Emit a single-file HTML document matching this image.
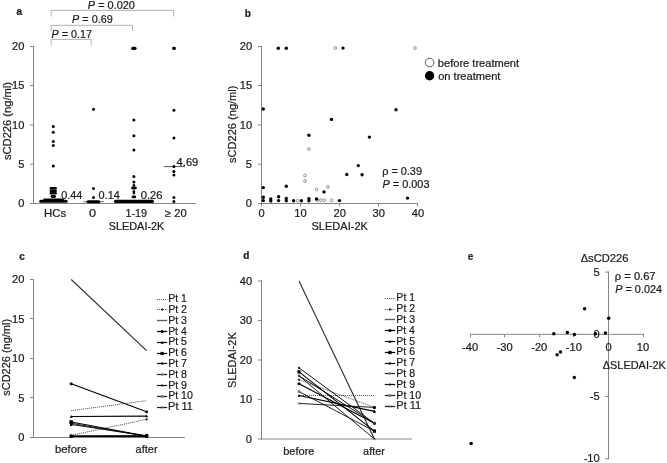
<!DOCTYPE html>
<html><head><meta charset="utf-8"><title>Figure</title>
<style>
html,body{margin:0;padding:0;background:#fff;}
body{width:667px;height:463px;overflow:hidden;font-family:"Liberation Sans",sans-serif;}
svg{display:block;will-change:transform;}
svg text{font-family:"Liberation Sans",sans-serif;fill:#1c1c1c;stroke:#1c1c1c;stroke-width:0.22px;}
</style></head><body>
<svg width="667" height="463" viewBox="0 0 667 463">
<rect width="667" height="463" fill="#fff"/>
<g id="pa">
<text x="16.60" y="14.60" font-size="10" font-weight="bold">a</text>
<line x1="33.50" y1="46.00" x2="33.50" y2="204.00" stroke="#858585" stroke-width="1" />
<line x1="30.00" y1="203.50" x2="195.70" y2="203.50" stroke="#858585" stroke-width="1" />
<text x="18.17" y="207.40" font-size="10.7" textLength="6.19" lengthAdjust="spacingAndGlyphs">0</text>
<line x1="30.00" y1="164.25" x2="34.00" y2="164.25" stroke="#858585" stroke-width="1" />
<text x="18.17" y="168.15" font-size="10.7" textLength="6.19" lengthAdjust="spacingAndGlyphs">5</text>
<line x1="30.00" y1="125.00" x2="34.00" y2="125.00" stroke="#858585" stroke-width="1" />
<text x="11.99" y="128.90" font-size="10.7" textLength="12.38" lengthAdjust="spacingAndGlyphs">10</text>
<line x1="30.00" y1="85.50" x2="34.00" y2="85.50" stroke="#858585" stroke-width="1" />
<text x="11.99" y="89.40" font-size="10.7" textLength="12.38" lengthAdjust="spacingAndGlyphs">15</text>
<line x1="30.00" y1="46.50" x2="34.00" y2="46.50" stroke="#858585" stroke-width="1" />
<text x="11.99" y="50.40" font-size="10.7" textLength="12.38" lengthAdjust="spacingAndGlyphs">20</text>
<path d="M51.2 16.6 V10.4 H173.7 V16.6" fill="none" stroke="#b2b2b2" stroke-width="1"/>
<path d="M51.2 31.2 V25.3 H132.5 V31.2" fill="none" stroke="#b2b2b2" stroke-width="1"/>
<path d="M51.2 45.3 V39.4 H91.2 V45.3" fill="none" stroke="#b2b2b2" stroke-width="1"/>
<text x="87.87" y="8.70" font-size="10.7" textLength="47.06" lengthAdjust="spacingAndGlyphs"><tspan font-style="italic">P</tspan> = 0.020</text>
<text x="72.08" y="23.00" font-size="10.7" textLength="40.65" lengthAdjust="spacingAndGlyphs"><tspan font-style="italic">P</tspan> = 0.69</text>
<text x="51.58" y="37.90" font-size="10.7" textLength="40.50" lengthAdjust="spacingAndGlyphs"><tspan font-style="italic">P</tspan> = 0.17</text>
<text x="0" y="0" font-size="10.7" textLength="78.03" lengthAdjust="spacingAndGlyphs" transform="translate(10.70 160.03) rotate(-90)">sCD226 (ng/ml)</text>
<circle cx="53.30" cy="126.40" r="1.5" fill="#000"/>
<circle cx="53.30" cy="132.20" r="1.5" fill="#000"/>
<circle cx="53.30" cy="141.40" r="1.5" fill="#000"/>
<circle cx="53.30" cy="145.40" r="1.5" fill="#000"/>
<circle cx="53.30" cy="166.00" r="1.5" fill="#000"/>
<line x1="50.90" y1="188.20" x2="55.60" y2="188.20" stroke="#000" stroke-width="2.6" stroke-linecap="round"/>
<line x1="50.80" y1="190.70" x2="55.70" y2="190.70" stroke="#000" stroke-width="2.4" stroke-linecap="round"/>
<line x1="50.90" y1="193.20" x2="55.60" y2="193.20" stroke="#000" stroke-width="2.6" stroke-linecap="round"/>
<line x1="52.00" y1="196.50" x2="54.60" y2="196.50" stroke="#000" stroke-width="2.8" stroke-linecap="round"/>
<line x1="44.60" y1="199.70" x2="62.70" y2="199.70" stroke="#000" stroke-width="2.6" stroke-linecap="round"/>
<line x1="40.75" y1="201.30" x2="66.15" y2="201.30" stroke="#000" stroke-width="3.1" stroke-linecap="round"/>
<line x1="83.20" y1="201.70" x2="104.00" y2="201.70" stroke="#777" stroke-width="1" />
<circle cx="93.50" cy="109.30" r="1.5" fill="#000"/>
<circle cx="93.50" cy="188.50" r="1.5" fill="#000"/>
<circle cx="93.50" cy="197.60" r="1.5" fill="#000"/>
<line x1="88.05" y1="201.70" x2="98.75" y2="201.70" stroke="#000" stroke-width="3.1" stroke-linecap="round"/>
<line x1="132.70" y1="48.30" x2="135.00" y2="48.30" stroke="#000" stroke-width="3.2" stroke-linecap="round"/>
<circle cx="133.90" cy="120.00" r="1.5" fill="#000"/>
<circle cx="133.90" cy="135.80" r="1.5" fill="#000"/>
<circle cx="133.90" cy="150.00" r="1.5" fill="#000"/>
<circle cx="133.90" cy="176.40" r="1.5" fill="#000"/>
<circle cx="133.90" cy="182.10" r="1.5" fill="#000"/>
<circle cx="133.90" cy="185.30" r="1.25" fill="#000"/>
<circle cx="133.90" cy="191.50" r="1.3" fill="#000"/>
<circle cx="133.90" cy="193.10" r="1.3" fill="#000"/>
<line x1="132.50" y1="188.00" x2="135.40" y2="188.00" stroke="#000" stroke-width="2.8" stroke-linecap="round"/>
<line x1="133.00" y1="196.90" x2="134.70" y2="196.90" stroke="#000" stroke-width="2.8" stroke-linecap="round"/>
<line x1="115.45" y1="201.40" x2="152.45" y2="201.40" stroke="#000" stroke-width="3.1" stroke-linecap="round"/>
<line x1="173.60" y1="48.30" x2="174.40" y2="48.30" stroke="#000" stroke-width="3.2" stroke-linecap="round"/>
<line x1="164.00" y1="166.60" x2="185.00" y2="166.60" stroke="#555" stroke-width="1" />
<circle cx="173.90" cy="110.30" r="1.5" fill="#000"/>
<circle cx="173.90" cy="138.00" r="1.5" fill="#000"/>
<circle cx="173.90" cy="166.50" r="1.5" fill="#000"/>
<circle cx="173.90" cy="171.50" r="1.5" fill="#000"/>
<circle cx="173.90" cy="175.10" r="1.5" fill="#000"/>
<circle cx="173.90" cy="197.60" r="1.5" fill="#000"/>
<circle cx="173.90" cy="201.40" r="1.5" fill="#000"/>
<text x="61.17" y="199.00" font-size="10.7" textLength="21.07" lengthAdjust="spacingAndGlyphs">0.44</text>
<text x="98.56" y="199.00" font-size="10.7" textLength="21.28" lengthAdjust="spacingAndGlyphs">0.14</text>
<text x="140.65" y="198.60" font-size="10.7" textLength="21.87" lengthAdjust="spacingAndGlyphs">0.26</text>
<text x="176.62" y="165.80" font-size="10.7" textLength="21.70" lengthAdjust="spacingAndGlyphs">4.69</text>
<text x="43.99" y="216.50" font-size="10.7" textLength="22.10" lengthAdjust="spacingAndGlyphs">HCs</text>
<text x="89.09" y="216.50" font-size="10.7" textLength="7.03" lengthAdjust="spacingAndGlyphs">0</text>
<text x="125.49" y="216.50" font-size="10.7" textLength="21.61" lengthAdjust="spacingAndGlyphs">1-19</text>
<text x="165.07" y="216.50" font-size="10.7" textLength="21.57" lengthAdjust="spacingAndGlyphs">≥ 20</text>
<text x="108.71" y="229.70" font-size="10.7" textLength="55.64" lengthAdjust="spacingAndGlyphs">SLEDAI-2K</text>
</g>
<g id="pb">
<text x="244.75" y="16.70" font-size="10" font-weight="bold">b</text>
<line x1="261.50" y1="46.00" x2="261.50" y2="204.00" stroke="#858585" stroke-width="1" />
<line x1="258.00" y1="203.50" x2="418.00" y2="203.50" stroke="#858585" stroke-width="1" />
<text x="245.87" y="207.40" font-size="10.7" textLength="6.19" lengthAdjust="spacingAndGlyphs">0</text>
<line x1="258.00" y1="164.25" x2="262.00" y2="164.25" stroke="#858585" stroke-width="1" />
<text x="245.87" y="168.15" font-size="10.7" textLength="6.19" lengthAdjust="spacingAndGlyphs">5</text>
<line x1="258.00" y1="125.00" x2="262.00" y2="125.00" stroke="#858585" stroke-width="1" />
<text x="239.69" y="128.90" font-size="10.7" textLength="12.38" lengthAdjust="spacingAndGlyphs">10</text>
<line x1="258.00" y1="85.50" x2="262.00" y2="85.50" stroke="#858585" stroke-width="1" />
<text x="239.69" y="89.40" font-size="10.7" textLength="12.38" lengthAdjust="spacingAndGlyphs">15</text>
<line x1="258.00" y1="46.50" x2="262.00" y2="46.50" stroke="#858585" stroke-width="1" />
<text x="239.69" y="50.40" font-size="10.7" textLength="12.38" lengthAdjust="spacingAndGlyphs">20</text>
<line x1="261.50" y1="203.50" x2="261.50" y2="206.50" stroke="#858585" stroke-width="1" />
<text x="258.41" y="216.50" font-size="10.7" textLength="6.19" lengthAdjust="spacingAndGlyphs">0</text>
<line x1="300.50" y1="203.50" x2="300.50" y2="206.50" stroke="#858585" stroke-width="1" />
<text x="294.23" y="216.50" font-size="10.7" textLength="12.38" lengthAdjust="spacingAndGlyphs">10</text>
<line x1="339.50" y1="203.50" x2="339.50" y2="206.50" stroke="#858585" stroke-width="1" />
<text x="333.47" y="216.50" font-size="10.7" textLength="12.38" lengthAdjust="spacingAndGlyphs">20</text>
<line x1="378.50" y1="203.50" x2="378.50" y2="206.50" stroke="#858585" stroke-width="1" />
<text x="372.62" y="216.50" font-size="10.7" textLength="12.38" lengthAdjust="spacingAndGlyphs">30</text>
<line x1="417.50" y1="203.50" x2="417.50" y2="206.50" stroke="#858585" stroke-width="1" />
<text x="411.81" y="216.50" font-size="10.7" textLength="12.38" lengthAdjust="spacingAndGlyphs">40</text>
<text x="311.50" y="229.70" font-size="10.7" textLength="56.45" lengthAdjust="spacingAndGlyphs">SLEDAI-2K</text>
<text x="0" y="0" font-size="10.7" textLength="77.52" lengthAdjust="spacingAndGlyphs" transform="translate(236.30 163.03) rotate(-90)">sCD226 (ng/ml)</text>
<circle cx="335.30" cy="48.10" r="1.4" fill="#fff" stroke="#707070" stroke-width="0.75"/>
<circle cx="415.00" cy="48.10" r="1.4" fill="#fff" stroke="#707070" stroke-width="0.75"/>
<circle cx="308.90" cy="149.10" r="1.4" fill="#fff" stroke="#707070" stroke-width="0.75"/>
<circle cx="305.00" cy="175.60" r="1.4" fill="#fff" stroke="#707070" stroke-width="0.75"/>
<circle cx="305.00" cy="181.10" r="1.4" fill="#fff" stroke="#707070" stroke-width="0.75"/>
<circle cx="316.50" cy="189.40" r="1.4" fill="#fff" stroke="#707070" stroke-width="0.75"/>
<circle cx="327.90" cy="186.90" r="1.4" fill="#fff" stroke="#707070" stroke-width="0.75"/>
<circle cx="297.70" cy="200.80" r="1.4" fill="#fff" stroke="#707070" stroke-width="0.75"/>
<circle cx="317.60" cy="200.10" r="1.4" fill="#fff" stroke="#707070" stroke-width="0.75"/>
<circle cx="320.90" cy="200.20" r="1.4" fill="#fff" stroke="#707070" stroke-width="0.75"/>
<circle cx="324.20" cy="200.20" r="1.4" fill="#fff" stroke="#707070" stroke-width="0.75"/>
<circle cx="331.70" cy="200.40" r="1.4" fill="#fff" stroke="#707070" stroke-width="0.75"/>
<circle cx="278.30" cy="48.30" r="1.7" fill="#000"/>
<circle cx="286.30" cy="48.30" r="1.7" fill="#000"/>
<circle cx="343.00" cy="48.10" r="1.7" fill="#000"/>
<circle cx="263.30" cy="109.00" r="1.7" fill="#000"/>
<circle cx="331.50" cy="119.40" r="1.7" fill="#000"/>
<circle cx="308.90" cy="135.20" r="1.7" fill="#000"/>
<circle cx="396.00" cy="109.80" r="1.7" fill="#000"/>
<circle cx="369.40" cy="137.10" r="1.7" fill="#000"/>
<circle cx="358.30" cy="165.60" r="1.7" fill="#000"/>
<circle cx="346.80" cy="174.50" r="1.7" fill="#000"/>
<circle cx="362.10" cy="174.80" r="1.7" fill="#000"/>
<circle cx="407.50" cy="198.10" r="1.7" fill="#000"/>
<circle cx="263.30" cy="187.60" r="1.7" fill="#000"/>
<circle cx="263.30" cy="197.30" r="1.7" fill="#000"/>
<circle cx="263.30" cy="200.60" r="1.7" fill="#000"/>
<circle cx="270.80" cy="199.00" r="1.7" fill="#000"/>
<circle cx="270.80" cy="201.00" r="1.7" fill="#000"/>
<circle cx="278.60" cy="196.80" r="1.7" fill="#000"/>
<circle cx="278.60" cy="200.60" r="1.7" fill="#000"/>
<circle cx="286.30" cy="186.30" r="1.7" fill="#000"/>
<circle cx="286.30" cy="198.50" r="1.7" fill="#000"/>
<circle cx="286.30" cy="200.70" r="1.7" fill="#000"/>
<circle cx="293.60" cy="200.80" r="1.7" fill="#000"/>
<circle cx="301.40" cy="200.80" r="1.7" fill="#000"/>
<circle cx="308.90" cy="198.60" r="1.7" fill="#000"/>
<circle cx="308.90" cy="200.80" r="1.7" fill="#000"/>
<circle cx="316.50" cy="199.00" r="1.7" fill="#000"/>
<circle cx="324.00" cy="191.90" r="1.7" fill="#000"/>
<circle cx="339.50" cy="200.60" r="1.7" fill="#000"/>
<circle cx="429.60" cy="62.50" r="4.3" fill="#fff" stroke="#333" stroke-width="0.8"/>
<circle cx="429.60" cy="75.80" r="4.7" fill="#000"/>
<text x="437.88" y="66.60" font-size="10.7" textLength="81.20" lengthAdjust="spacingAndGlyphs">before treatment</text>
<text x="438.16" y="80.00" font-size="10.7" textLength="62.25" lengthAdjust="spacingAndGlyphs">on treatment</text>
<text x="382.19" y="174.80" font-size="10.7" textLength="39.80" lengthAdjust="spacingAndGlyphs">ρ = 0.39</text>
<text x="382.57" y="188.10" font-size="10.7" textLength="46.91" lengthAdjust="spacingAndGlyphs"><tspan font-style="italic">P</tspan> = 0.003</text>
</g>
<g id="pc">
<text x="19.30" y="259.80" font-size="10" font-weight="bold">c</text>
<line x1="33.50" y1="279.00" x2="33.50" y2="438.00" stroke="#858585" stroke-width="1" />
<line x1="30.00" y1="437.50" x2="184.90" y2="437.50" stroke="#858585" stroke-width="1" />
<text x="18.17" y="441.40" font-size="10.7" textLength="6.19" lengthAdjust="spacingAndGlyphs">0</text>
<line x1="30.00" y1="397.50" x2="34.00" y2="397.50" stroke="#858585" stroke-width="1" />
<text x="18.17" y="401.90" font-size="10.7" textLength="6.19" lengthAdjust="spacingAndGlyphs">5</text>
<line x1="30.00" y1="358.50" x2="34.00" y2="358.50" stroke="#858585" stroke-width="1" />
<text x="11.99" y="362.40" font-size="10.7" textLength="12.38" lengthAdjust="spacingAndGlyphs">10</text>
<line x1="30.00" y1="318.50" x2="34.00" y2="318.50" stroke="#858585" stroke-width="1" />
<text x="11.99" y="322.90" font-size="10.7" textLength="12.38" lengthAdjust="spacingAndGlyphs">15</text>
<line x1="30.00" y1="279.50" x2="34.00" y2="279.50" stroke="#858585" stroke-width="1" />
<text x="11.99" y="283.40" font-size="10.7" textLength="12.38" lengthAdjust="spacingAndGlyphs">20</text>
<text x="54.97" y="453.40" font-size="10.7" textLength="32.05" lengthAdjust="spacingAndGlyphs">before</text>
<text x="135.61" y="453.40" font-size="10.7" textLength="21.97" lengthAdjust="spacingAndGlyphs">after</text>
<text x="0" y="0" font-size="10.7" textLength="76.81" lengthAdjust="spacingAndGlyphs" transform="translate(10.30 395.73) rotate(-90)">sCD226 (ng/ml)</text>
<line x1="71.20" y1="423.28" x2="146.60" y2="436.31" stroke="#222" stroke-width="1.0" />
<circle cx="71.20" cy="423.28" r="1.3" fill="#777"/>
<circle cx="146.60" cy="436.31" r="1.3" fill="#777"/>
<line x1="71.20" y1="436.31" x2="146.60" y2="435.92" stroke="#222" stroke-width="1.0" />
<rect x="69.90" y="435.01" width="2.6" height="2.6" fill="#777"/>
<rect x="145.30" y="434.62" width="2.6" height="2.6" fill="#777"/>
<line x1="71.20" y1="436.31" x2="146.60" y2="436.71" stroke="#222" stroke-width="1.0" />
<path d="M70.00 435.12 L72.40 437.51 M70.00 437.51 L72.40 435.12" stroke="#666" stroke-width="0.8"/>
<path d="M145.40 435.51 L147.80 437.91 M145.40 437.91 L147.80 435.51" stroke="#666" stroke-width="0.8"/>
<line x1="71.20" y1="410.64" x2="146.60" y2="400.69" stroke="#444" stroke-width="0.9" stroke-dasharray="1.1 0.9"/>
<line x1="71.20" y1="435.37" x2="146.60" y2="419.33" stroke="#444" stroke-width="0.9" stroke-dasharray="1.1 0.9"/>
<path d="M69.80 435.37 L71.20 433.97 L72.60 435.37 L71.20 436.77 Z" fill="#222"/>
<path d="M145.20 419.33 L146.60 417.93 L148.00 419.33 L146.60 420.73 Z" fill="#222"/>
<line x1="71.20" y1="279.50" x2="146.60" y2="350.60" stroke="#303030" stroke-width="1.15" />
<line x1="71.20" y1="383.78" x2="146.60" y2="411.67" stroke="#000" stroke-width="1.1" />
<circle cx="71.20" cy="383.78" r="1.5" fill="#000"/>
<circle cx="146.60" cy="411.67" r="1.5" fill="#000"/>
<line x1="71.20" y1="416.49" x2="146.60" y2="416.17" stroke="#000" stroke-width="1.1" />
<path d="M69.70 417.69 L72.70 417.69 L71.20 414.89 Z" fill="#000"/>
<path d="M145.10 417.37 L148.10 417.37 L146.60 414.57 Z" fill="#000"/>
<line x1="71.20" y1="424.46" x2="146.60" y2="435.92" stroke="#111" stroke-width="1.0" />
<path d="M69.80 424.46 L71.20 423.06 L72.60 424.46 L71.20 425.86 Z" fill="#000"/>
<path d="M145.20 435.92 L146.60 434.52 L148.00 435.92 L146.60 437.32 Z" fill="#000"/>
<line x1="71.20" y1="436.31" x2="146.60" y2="436.31" stroke="#111" stroke-width="1.0" />
<path d="M71.20 435.01 V437.62" stroke="#222" stroke-width="0.9"/>
<path d="M146.60 435.01 V437.62" stroke="#222" stroke-width="0.9"/>
<line x1="71.20" y1="422.02" x2="146.60" y2="435.92" stroke="#000" stroke-width="1.1" />
<rect x="69.60" y="420.42" width="3.2" height="3.2" fill="#000"/>
<rect x="145.00" y="434.32" width="3.2" height="3.2" fill="#000"/>
<line x1="71.20" y1="436.31" x2="146.60" y2="436.08" stroke="#000" stroke-width="1.5" />
<rect x="69.60" y="434.71" width="3.2" height="3.2" fill="#000"/>
<rect x="145.00" y="434.32" width="3.2" height="3.2" fill="#000"/>
<rect x="69.60" y="420.42" width="3.2" height="3.2" fill="#000"/>
<path d="M69.70 425.90 L72.70 425.90 L71.20 423.10 Z" fill="#000"/>
<line x1="157.00" y1="299.50" x2="167.20" y2="299.50" stroke="#444" stroke-width="0.9" stroke-dasharray="1.1 0.9"/>
<text x="168.16" y="302.20" font-size="10.7" textLength="18.76" lengthAdjust="spacingAndGlyphs">Pt 1</text>
<line x1="157.00" y1="309.50" x2="167.20" y2="309.50" stroke="#444" stroke-width="0.9" stroke-dasharray="1.1 0.9"/>
<path d="M160.70 309.50 L162.10 308.10 L163.50 309.50 L162.10 310.90 Z" fill="#222"/>
<text x="168.16" y="313.00" font-size="10.7" textLength="18.76" lengthAdjust="spacingAndGlyphs">Pt 2</text>
<line x1="157.00" y1="320.50" x2="167.20" y2="320.50" stroke="#606060" stroke-width="1.4" />
<text x="168.16" y="323.80" font-size="10.7" textLength="18.70" lengthAdjust="spacingAndGlyphs">Pt 3</text>
<line x1="157.00" y1="331.50" x2="167.20" y2="331.50" stroke="#000" stroke-width="1.25" />
<circle cx="162.10" cy="331.50" r="1.5" fill="#000"/>
<text x="168.17" y="334.60" font-size="10.7" textLength="18.53" lengthAdjust="spacingAndGlyphs">Pt 4</text>
<line x1="157.00" y1="342.50" x2="167.20" y2="342.50" stroke="#000" stroke-width="1.25" />
<path d="M160.60 343.70 L163.60 343.70 L162.10 340.90 Z" fill="#000"/>
<text x="168.16" y="345.40" font-size="10.7" textLength="18.65" lengthAdjust="spacingAndGlyphs">Pt 5</text>
<line x1="157.00" y1="353.50" x2="167.20" y2="353.50" stroke="#000" stroke-width="1.25" />
<rect x="160.50" y="351.90" width="3.2" height="3.2" fill="#000"/>
<text x="168.16" y="356.20" font-size="10.7" textLength="18.70" lengthAdjust="spacingAndGlyphs">Pt 6</text>
<line x1="157.00" y1="363.50" x2="167.20" y2="363.50" stroke="#111" stroke-width="1.25" />
<path d="M160.70 363.50 L162.10 362.10 L163.50 363.50 L162.10 364.90 Z" fill="#000"/>
<text x="168.16" y="367.00" font-size="10.7" textLength="18.76" lengthAdjust="spacingAndGlyphs">Pt 7</text>
<line x1="157.00" y1="374.50" x2="167.20" y2="374.50" stroke="#222" stroke-width="1.25" />
<circle cx="162.10" cy="374.50" r="1.3" fill="#777"/>
<text x="168.16" y="377.80" font-size="10.7" textLength="18.65" lengthAdjust="spacingAndGlyphs">Pt 8</text>
<line x1="157.00" y1="385.50" x2="167.20" y2="385.50" stroke="#111" stroke-width="1.25" />
<path d="M162.10 384.20 V386.80" stroke="#222" stroke-width="0.9"/>
<text x="168.16" y="388.60" font-size="10.7" textLength="18.70" lengthAdjust="spacingAndGlyphs">Pt 9</text>
<line x1="157.00" y1="396.50" x2="167.20" y2="396.50" stroke="#222" stroke-width="1.25" />
<rect x="160.80" y="395.20" width="2.6" height="2.6" fill="#777"/>
<text x="168.15" y="399.40" font-size="10.7" textLength="24.67" lengthAdjust="spacingAndGlyphs">Pt 10</text>
<line x1="157.00" y1="407.50" x2="167.20" y2="407.50" stroke="#222" stroke-width="1.25" />
<path d="M160.90 406.30 L163.30 408.70 M160.90 408.70 L163.30 406.30" stroke="#666" stroke-width="0.8"/>
<text x="168.12" y="410.20" font-size="10.7" textLength="24.84" lengthAdjust="spacingAndGlyphs">Pt 11</text>
</g>
<g id="pd">
<text x="243.30" y="258.60" font-size="10" font-weight="bold">d</text>
<line x1="261.50" y1="280.50" x2="261.50" y2="439.50" stroke="#858585" stroke-width="1" />
<line x1="258.00" y1="439.00" x2="411.80" y2="439.00" stroke="#858585" stroke-width="1" />
<text x="245.87" y="442.90" font-size="10.7" textLength="6.19" lengthAdjust="spacingAndGlyphs">0</text>
<line x1="258.00" y1="399.50" x2="262.00" y2="399.50" stroke="#858585" stroke-width="1" />
<text x="239.69" y="403.40" font-size="10.7" textLength="12.38" lengthAdjust="spacingAndGlyphs">10</text>
<line x1="258.00" y1="360.00" x2="262.00" y2="360.00" stroke="#858585" stroke-width="1" />
<text x="239.69" y="363.90" font-size="10.7" textLength="12.38" lengthAdjust="spacingAndGlyphs">20</text>
<line x1="258.00" y1="320.50" x2="262.00" y2="320.50" stroke="#858585" stroke-width="1" />
<text x="239.69" y="324.40" font-size="10.7" textLength="12.38" lengthAdjust="spacingAndGlyphs">30</text>
<line x1="258.00" y1="281.00" x2="262.00" y2="281.00" stroke="#858585" stroke-width="1" />
<text x="239.69" y="284.90" font-size="10.7" textLength="12.38" lengthAdjust="spacingAndGlyphs">40</text>
<text x="283.18" y="455.10" font-size="10.7" textLength="31.32" lengthAdjust="spacingAndGlyphs">before</text>
<text x="363.11" y="455.10" font-size="10.7" textLength="21.66" lengthAdjust="spacingAndGlyphs">after</text>
<text x="0" y="0" font-size="10.7" textLength="55.64" lengthAdjust="spacingAndGlyphs" transform="translate(236.10 387.99) rotate(-90)">SLEDAI-2K</text>
<line x1="299.00" y1="375.80" x2="374.40" y2="439.00" stroke="#222" stroke-width="1.0" />
<circle cx="299.00" cy="375.80" r="1.3" fill="#777"/>
<circle cx="374.40" cy="439.00" r="1.3" fill="#777"/>
<line x1="299.00" y1="391.60" x2="374.40" y2="431.10" stroke="#222" stroke-width="1.0" />
<rect x="297.70" y="390.30" width="2.6" height="2.6" fill="#777"/>
<rect x="373.10" y="429.80" width="2.6" height="2.6" fill="#777"/>
<line x1="299.00" y1="403.45" x2="374.40" y2="407.40" stroke="#222" stroke-width="1.0" />
<path d="M297.80 402.25 L300.20 404.65 M297.80 404.65 L300.20 402.25" stroke="#666" stroke-width="0.8"/>
<path d="M373.20 406.20 L375.60 408.60 M373.20 408.60 L375.60 406.20" stroke="#666" stroke-width="0.8"/>
<line x1="299.00" y1="395.55" x2="374.40" y2="395.55" stroke="#444" stroke-width="0.9" stroke-dasharray="1.1 0.9"/>
<line x1="299.00" y1="379.75" x2="374.40" y2="407.40" stroke="#444" stroke-width="0.9" stroke-dasharray="1.1 0.9"/>
<path d="M297.60 379.75 L299.00 378.35 L300.40 379.75 L299.00 381.15 Z" fill="#222"/>
<path d="M373.00 407.40 L374.40 406.00 L375.80 407.40 L374.40 408.80 Z" fill="#222"/>
<line x1="299.00" y1="281.00" x2="374.40" y2="439.00" stroke="#303030" stroke-width="1.15" />
<line x1="299.00" y1="383.70" x2="374.40" y2="423.20" stroke="#000" stroke-width="1.1" />
<circle cx="299.00" cy="383.70" r="1.5" fill="#000"/>
<circle cx="374.40" cy="423.20" r="1.5" fill="#000"/>
<line x1="299.00" y1="395.55" x2="374.40" y2="411.35" stroke="#000" stroke-width="1.1" />
<path d="M297.50 396.75 L300.50 396.75 L299.00 393.95 Z" fill="#000"/>
<path d="M372.90 412.55 L375.90 412.55 L374.40 409.75 Z" fill="#000"/>
<line x1="299.00" y1="367.90" x2="374.40" y2="423.20" stroke="#111" stroke-width="1.0" />
<path d="M297.60 367.90 L299.00 366.50 L300.40 367.90 L299.00 369.30 Z" fill="#000"/>
<path d="M373.00 423.20 L374.40 421.80 L375.80 423.20 L374.40 424.60 Z" fill="#000"/>
<line x1="299.00" y1="375.80" x2="374.40" y2="423.20" stroke="#111" stroke-width="1.0" />
<path d="M299.00 374.50 V377.10" stroke="#222" stroke-width="0.9"/>
<path d="M374.40 421.90 V424.50" stroke="#222" stroke-width="0.9"/>
<line x1="299.00" y1="371.85" x2="374.40" y2="431.10" stroke="#000" stroke-width="1.1" />
<rect x="297.40" y="370.25" width="3.2" height="3.2" fill="#000"/>
<rect x="372.80" y="429.50" width="3.2" height="3.2" fill="#000"/>
<circle cx="374.40" cy="407.40" r="1.5" fill="#000"/>
<path d="M372.90 412.55 L375.90 412.55 L374.40 409.75 Z" fill="#000"/>
<path d="M373.20 422.00 L375.60 424.40 M373.20 424.40 L375.60 422.00" stroke="#666" stroke-width="0.8"/>
<line x1="384.80" y1="298.50" x2="395.20" y2="298.50" stroke="#444" stroke-width="0.9" stroke-dasharray="1.1 0.9"/>
<text x="396.36" y="301.40" font-size="10.7" textLength="18.76" lengthAdjust="spacingAndGlyphs">Pt 1</text>
<line x1="384.80" y1="309.50" x2="395.20" y2="309.50" stroke="#444" stroke-width="0.9" stroke-dasharray="1.1 0.9"/>
<path d="M388.60 309.50 L390.00 308.10 L391.40 309.50 L390.00 310.90 Z" fill="#222"/>
<text x="396.36" y="312.20" font-size="10.7" textLength="18.76" lengthAdjust="spacingAndGlyphs">Pt 2</text>
<line x1="384.80" y1="319.50" x2="395.20" y2="319.50" stroke="#606060" stroke-width="1.4" />
<text x="396.36" y="323.00" font-size="10.7" textLength="18.70" lengthAdjust="spacingAndGlyphs">Pt 3</text>
<line x1="384.80" y1="330.50" x2="395.20" y2="330.50" stroke="#000" stroke-width="1.25" />
<circle cx="390.00" cy="330.50" r="1.5" fill="#000"/>
<text x="396.37" y="333.80" font-size="10.7" textLength="18.53" lengthAdjust="spacingAndGlyphs">Pt 4</text>
<line x1="384.80" y1="341.50" x2="395.20" y2="341.50" stroke="#000" stroke-width="1.25" />
<path d="M388.50 342.70 L391.50 342.70 L390.00 339.90 Z" fill="#000"/>
<text x="396.36" y="344.60" font-size="10.7" textLength="18.65" lengthAdjust="spacingAndGlyphs">Pt 5</text>
<line x1="384.80" y1="352.50" x2="395.20" y2="352.50" stroke="#000" stroke-width="1.25" />
<rect x="388.40" y="350.90" width="3.2" height="3.2" fill="#000"/>
<text x="396.36" y="355.40" font-size="10.7" textLength="18.70" lengthAdjust="spacingAndGlyphs">Pt 6</text>
<line x1="384.80" y1="363.50" x2="395.20" y2="363.50" stroke="#111" stroke-width="1.25" />
<path d="M388.60 363.50 L390.00 362.10 L391.40 363.50 L390.00 364.90 Z" fill="#000"/>
<text x="396.36" y="366.20" font-size="10.7" textLength="18.76" lengthAdjust="spacingAndGlyphs">Pt 7</text>
<line x1="384.80" y1="373.50" x2="395.20" y2="373.50" stroke="#222" stroke-width="1.25" />
<circle cx="390.00" cy="373.50" r="1.3" fill="#777"/>
<text x="396.36" y="377.00" font-size="10.7" textLength="18.65" lengthAdjust="spacingAndGlyphs">Pt 8</text>
<line x1="384.80" y1="384.50" x2="395.20" y2="384.50" stroke="#111" stroke-width="1.25" />
<path d="M390.00 383.20 V385.80" stroke="#222" stroke-width="0.9"/>
<text x="396.36" y="387.80" font-size="10.7" textLength="18.70" lengthAdjust="spacingAndGlyphs">Pt 9</text>
<line x1="384.80" y1="395.50" x2="395.20" y2="395.50" stroke="#222" stroke-width="1.25" />
<rect x="388.70" y="394.20" width="2.6" height="2.6" fill="#777"/>
<text x="396.35" y="398.60" font-size="10.7" textLength="24.67" lengthAdjust="spacingAndGlyphs">Pt 10</text>
<line x1="384.80" y1="406.50" x2="395.20" y2="406.50" stroke="#222" stroke-width="1.25" />
<path d="M388.80 405.30 L391.20 407.70 M388.80 407.70 L391.20 405.30" stroke="#666" stroke-width="0.8"/>
<text x="396.32" y="409.40" font-size="10.7" textLength="24.84" lengthAdjust="spacingAndGlyphs">Pt 11</text>
</g>
<g id="pe">
<text x="467.70" y="259.80" font-size="10" font-weight="bold">e</text>
<line x1="470.00" y1="334.30" x2="644.00" y2="334.30" stroke="#858585" stroke-width="1" />
<line x1="608.50" y1="271.50" x2="608.50" y2="459.00" stroke="#858585" stroke-width="1" />
<line x1="470.50" y1="334.30" x2="470.50" y2="337.30" stroke="#858585" stroke-width="1" />
<text x="462.03" y="350.80" font-size="10.7" textLength="16.08" lengthAdjust="spacingAndGlyphs">-40</text>
<line x1="504.50" y1="334.30" x2="504.50" y2="337.30" stroke="#858585" stroke-width="1" />
<text x="496.63" y="350.80" font-size="10.7" textLength="16.08" lengthAdjust="spacingAndGlyphs">-30</text>
<line x1="539.50" y1="334.30" x2="539.50" y2="337.30" stroke="#858585" stroke-width="1" />
<text x="531.23" y="350.80" font-size="10.7" textLength="16.08" lengthAdjust="spacingAndGlyphs">-20</text>
<line x1="573.50" y1="334.30" x2="573.50" y2="337.30" stroke="#858585" stroke-width="1" />
<text x="565.83" y="350.80" font-size="10.7" textLength="16.08" lengthAdjust="spacingAndGlyphs">-10</text>
<text x="605.41" y="350.80" font-size="10.7" textLength="6.19" lengthAdjust="spacingAndGlyphs">0</text>
<line x1="643.50" y1="334.30" x2="643.50" y2="337.30" stroke="#858585" stroke-width="1" />
<text x="636.73" y="350.80" font-size="10.7" textLength="12.38" lengthAdjust="spacingAndGlyphs">10</text>
<line x1="605.00" y1="272.10" x2="609.00" y2="272.10" stroke="#858585" stroke-width="1" />
<text x="593.57" y="276.00" font-size="10.7" textLength="6.19" lengthAdjust="spacingAndGlyphs">5</text>
<text x="593.57" y="338.20" font-size="10.7" textLength="6.19" lengthAdjust="spacingAndGlyphs">0</text>
<line x1="605.00" y1="396.50" x2="609.00" y2="396.50" stroke="#858585" stroke-width="1" />
<text x="589.84" y="400.40" font-size="10.7" textLength="9.90" lengthAdjust="spacingAndGlyphs">-5</text>
<line x1="605.00" y1="458.70" x2="609.00" y2="458.70" stroke="#858585" stroke-width="1" />
<text x="583.67" y="461.90" font-size="10.7" textLength="16.08" lengthAdjust="spacingAndGlyphs">-10</text>
<text x="580.66" y="261.60" font-size="10.7" textLength="47.85" lengthAdjust="spacingAndGlyphs">ΔsCD226</text>
<text x="602.77" y="369.10" font-size="10.7" textLength="63.15" lengthAdjust="spacingAndGlyphs">ΔSLEDAI-2K</text>
<text x="614.88" y="279.90" font-size="10.7" textLength="40.68" lengthAdjust="spacingAndGlyphs">ρ = 0.67</text>
<text x="615.27" y="292.90" font-size="10.7" textLength="46.74" lengthAdjust="spacingAndGlyphs"><tspan font-style="italic">P</tspan> = 0.024</text>
<circle cx="584.60" cy="308.80" r="1.75" fill="#000"/>
<circle cx="608.70" cy="318.20" r="1.75" fill="#000"/>
<circle cx="553.80" cy="333.70" r="1.75" fill="#000"/>
<circle cx="567.40" cy="332.40" r="1.75" fill="#000"/>
<circle cx="574.40" cy="334.50" r="1.75" fill="#000"/>
<circle cx="595.40" cy="333.80" r="1.75" fill="#000"/>
<circle cx="605.40" cy="332.90" r="1.75" fill="#000"/>
<circle cx="560.50" cy="352.10" r="1.75" fill="#000"/>
<circle cx="557.10" cy="354.80" r="1.75" fill="#000"/>
<circle cx="574.30" cy="377.50" r="1.75" fill="#000"/>
<circle cx="471.10" cy="443.60" r="1.75" fill="#000"/>
</g>
</svg>
</body></html>
